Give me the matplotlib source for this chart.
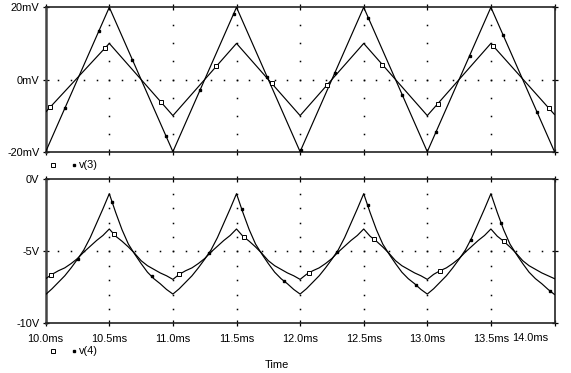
import numpy as np
import matplotlib
matplotlib.use('Agg')
import matplotlib.pyplot as plt
from matplotlib.lines import Line2D

plt.rcParams['font.family'] = ['Liberation Sans', 'DejaVu Sans']

# ---- top panel: triangle waves (mV), vertices every 0.5 ms ----
T_TOP = [10.0, 10.5, 11.0, 11.5, 12.0, 12.5, 13.0, 13.5, 14.0]
V3_BIG = [-20.0, 20.0, -20.0, 20.0, -20.0, 20.0, -20.0, 20.0, -20.0]
V3_SMALL = [-9.0, 10.0, -10.0, 10.0, -10.0, 10.0, -10.0, 10.0, -9.7]

# marker positions along the traces (ms)
MK_TOP_FILLED = [10.152, 10.417, 10.682, 10.947, 11.212, 11.477, 11.742, 12.007,
                 12.272, 12.537, 12.802, 13.067, 13.332, 13.597, 13.862]
MK_TOP_OPEN = [10.034, 10.470, 10.905, 11.341, 11.776, 12.212, 12.647, 13.083,
               13.518, 13.954]

# ---- bottom panel (V), sampled every 0.05 ms ----
T_BOT = np.round(np.arange(10.0, 14.0001, 0.05), 2)
V4_BIG = [
    -8.0, -7.6, -7.15, -6.7, -6.15, -5.55, -4.9, -4.05, -3.05, -2.05,
    -1.0, -2.3, -3.5, -4.5, -5.2, -5.85, -6.45, -6.9, -7.25, -7.65,
    -7.97, -7.6, -7.15, -6.7, -6.15, -5.55, -4.9, -4.05, -3.05, -2.05,
    -1.0, -2.3, -3.5, -4.5, -5.2, -5.85, -6.45, -6.9, -7.25, -7.65,
    -7.97, -7.6, -7.15, -6.7, -6.15, -5.55, -4.9, -4.05, -3.05, -2.05,
    -1.0, -2.3, -3.5, -4.5, -5.2, -5.85, -6.45, -6.9, -7.25, -7.65,
    -7.97, -7.6, -7.15, -6.7, -6.15, -5.55, -4.9, -4.05, -3.05, -2.05,
    -1.0, -2.3, -3.5, -4.5, -5.2, -5.85, -6.45, -6.9, -7.25, -7.65,
    -8.0,
]
V4_SMALL = [
    -6.9, -6.6, -6.35, -6.15, -5.85, -5.5, -5.05, -4.65, -4.25, -3.9,
    -3.45, -3.95, -4.3, -4.7, -5.15, -5.65, -6.0, -6.25, -6.5, -6.7,
    -6.95, -6.6, -6.35, -6.15, -5.85, -5.5, -5.05, -4.65, -4.25, -3.9,
    -3.45, -3.95, -4.3, -4.7, -5.15, -5.65, -6.0, -6.25, -6.5, -6.7,
    -6.95, -6.6, -6.35, -6.15, -5.85, -5.5, -5.05, -4.65, -4.25, -3.9,
    -3.45, -3.95, -4.3, -4.7, -5.15, -5.65, -6.0, -6.25, -6.5, -6.7,
    -6.95, -6.6, -6.35, -6.15, -5.85, -5.5, -5.05, -4.65, -4.25, -3.9,
    -3.45, -3.95, -4.3, -4.7, -5.15, -5.65, -6.0, -6.25, -6.5, -6.7,
    -6.9,
]
MK_BOT_FILLED = [10.251, 10.523, 10.833, 11.283, 11.540, 11.872, 12.290, 12.530,
                 12.909, 13.341, 13.582, 13.962]
MK_BOT_OPEN = [10.039, 10.537, 11.050, 11.558, 12.070, 12.580, 13.100, 13.600]

XTICKS = [10.0, 10.5, 11.0, 11.5, 12.0, 12.5, 13.0, 13.5, 14.0]
XTICKLABELS = ['10.0ms', '10.5ms', '11.0ms', '11.5ms', '12.0ms', '12.5ms',
               '13.0ms', '13.5ms', '14.0ms']

W, H = 571, 373
FS = 7.9
LW = 0.85
MS_OPEN = 3.0
MS_FILL = 2.0


def fx(px):
    return px / W


def fy(py):
    return 1 - py / H


def style_axes(ax, yticks, ylabels):
    ax.set_xlim(10.0, 14.0)
    ax.set_xticks(XTICKS)
    ax.set_yticks(yticks)
    ax.set_yticklabels(ylabels)
    ax.tick_params(axis='both', direction='inout', length=5, width=0.9,
                   labelsize=FS, colors='black')
    ax.tick_params(axis='x', top=True, bottom=True, pad=5)
    ax.tick_params(axis='y', left=True, right=True, pad=2)
    for s in ['top', 'bottom', 'right']:
        ax.spines[s].set_linewidth(1.2)
        ax.spines[s].set_color('#222222')
    ax.spines['left'].set_linewidth(1.8)
    ax.spines['left'].set_color('#444444')


def dotted_grid(ax, ydots, yzero, xdots):
    # vertical dotted lines at the inner major ticks
    for x in XTICKS[1:-1]:
        ax.plot([x] * len(ydots), ydots, ls='none', marker='s', ms=1.1,
                mfc='black', mec='none', zorder=1)
    ax.plot(xdots, [yzero] * len(xdots), ls='none', marker='s', ms=1.1,
            mfc='black', mec='none', zorder=1)


fig = plt.figure(figsize=(W / 100, H / 100), dpi=100)
ax1 = fig.add_axes([fx(45.7), fy(151.7), fx(554.5 - 45.7), (151.7 - 7.3) / H])
ax2 = fig.add_axes([fx(45.7), fy(323.3), fx(554.5 - 45.7), (323.3 - 179.3) / H])

xdots = np.round(np.arange(10.1, 14.0, 0.1), 2)

# top panel
ax1.plot(T_TOP, V3_BIG, color='black', lw=LW, zorder=3)
ax1.plot(T_TOP, V3_SMALL, color='black', lw=LW, zorder=3)
ax1.plot(MK_TOP_FILLED, np.interp(MK_TOP_FILLED, T_TOP, V3_BIG), ls='none',
         marker='s', ms=MS_FILL, mfc='black', mec='black', zorder=4)
ax1.plot(MK_TOP_OPEN, np.interp(MK_TOP_OPEN, T_TOP, V3_SMALL), ls='none',
         marker='s', ms=MS_OPEN, mfc='white', mec='black', mew=0.7, zorder=4)
ax1.set_ylim(-20, 20)
dotted_grid(ax1, [-15, -10, -5, 0, 5, 10, 15], 0, xdots)
style_axes(ax1, [-20, 0, 20], ['-20mV', '0mV', '20mV'])
ax1.tick_params(axis='x', labelbottom=False)

# bottom panel
ax2.plot(T_BOT, V4_BIG, color='black', lw=LW, zorder=3)
ax2.plot(T_BOT, V4_SMALL, color='black', lw=LW, zorder=3)
ax2.plot(MK_BOT_FILLED, np.interp(MK_BOT_FILLED, T_BOT, V4_BIG), ls='none',
         marker='s', ms=MS_FILL, mfc='black', mec='black', zorder=4)
ax2.plot(MK_BOT_OPEN, np.interp(MK_BOT_OPEN, T_BOT, V4_SMALL), ls='none',
         marker='s', ms=MS_OPEN, mfc='white', mec='black', mew=0.7, zorder=4)
ax2.set_ylim(-10, 0)
dotted_grid(ax2, [-9, -8, -7, -6, -5, -4, -3, -2, -1], -5, xdots)
style_axes(ax2, [-10, -5, 0], ['-10V', '-5V', '0V'])
# last label is pulled in from the right edge, as in the original
ax2.set_xticklabels(XTICKLABELS[:-1] + [''])
fig.text(fx(530.5), fy(338), XTICKLABELS[-1], fontsize=FS, ha='center', va='center')

# legends below each panel
for ypx, name in [(165, 'v(3)'), (350.7, 'v(4)')]:
    fig.add_artist(Line2D([fx(52.7)], [fy(ypx)], ls='none', marker='s', ms=MS_OPEN,
                          mfc='white', mec='black', mew=0.7))
    fig.add_artist(Line2D([fx(73.7)], [fy(ypx)], ls='none', marker='s', ms=MS_FILL,
                          mfc='black', mec='black'))
    fig.text(fx(79), fy(ypx), name, fontsize=FS, ha='left', va='center')

fig.text(fx(277), fy(364.5), 'Time', fontsize=FS, ha='center', va='center')

fig.savefig('out.png', dpi=100)
